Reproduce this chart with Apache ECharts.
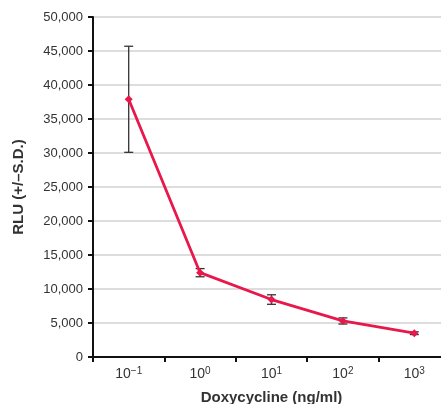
<!DOCTYPE html>
<html><head><meta charset="utf-8">
<script src="https://cdn.jsdelivr.net/npm/echarts@6/dist/echarts.min.js"></script>
<style>html,body{margin:0;padding:0;background:#fff}#c{width:441px;height:404px}</style>
</head><body><div id="c"></div>
<script>
const categories = ['-1', '0', '1', '2', '3'];
const rlu = [37900, 12400, 8450, 5300, 3500];
const sd = [7800, 600, 700, 450, 200];
const yTicks = [0, 5000, 10000, 15000, 20000, 25000, 30000, 35000, 40000, 45000, 50000];

const red = '#e8174c';
const chart = echarts.init(document.getElementById('c'));
const errData = categories.map((c, i) => [i, rlu[i] - sd[i], rlu[i] + sd[i]]);
chart.setOption({
  animation: false,
  grid: { left: 93, right: -9, top: 17, bottom: 47, outerBoundsMode: 'none', containLabel: false },
  xAxis: {
    type: 'category', data: categories, boundaryGap: true,
    axisLine: { lineStyle: { color: '#111', width: 2 } },
    axisTick: { show: true, length: 5, interval: 0, lineStyle: { color: '#111', width: 2 } },
    axisLabel: {
      margin: 9, interval: 0,
      formatter: v => '{b|10}{s|' + v.replace('-', '−') + '}',
      rich: {
        b: { fontFamily: 'Liberation Sans', fontSize: 14, color: '#333', lineHeight: 17 },
        s: { fontFamily: 'Liberation Sans', fontSize: 10, color: '#333', verticalAlign: 'top', lineHeight: 17, padding: [0, 0, 6, 0] }
      }
    },
    name: 'Doxycycline (ng/ml)', nameLocation: 'middle', nameGap: 33,
    nameTextStyle: { fontFamily: 'Liberation Sans', fontWeight: 'bold', fontSize: 15, color: '#333' }
  },
  yAxis: {
    type: 'value', min: yTicks[0], max: yTicks[yTicks.length - 1], interval: 5000,
    axisLine: { show: true, lineStyle: { color: '#111', width: 2 } },
    axisTick: { show: true, length: 5, lineStyle: { color: '#111', width: 2 } },
    splitLine: { show: true, lineStyle: { color: '#d2d2d2', width: 1.5 } },
    axisLabel: {
      margin: 10, fontFamily: 'Liberation Sans', fontSize: 13, color: '#333',
      formatter: v => v.toLocaleString('en-US')
    },
    name: 'RLU (+/–S.D.)', nameLocation: 'middle', nameGap: 67, nameRotate: 90,
    nameTextStyle: { fontFamily: 'Liberation Sans', fontWeight: 'bold', fontSize: 15, color: '#333' }
  },
  series: [
    {
      type: 'custom', data: errData, z: 1,
      renderItem: (params, api) => {
        const x = api.value(0);
        const lo = api.coord([x, api.value(1)]);
        const hi = api.coord([x, api.value(2)]);
        const w = 4.5;
        const st = { stroke: '#333', lineWidth: 1.3 };
        return { type: 'group', children: [
          { type: 'line', shape: { x1: lo[0], y1: lo[1], x2: hi[0], y2: hi[1] }, style: st },
          { type: 'line', shape: { x1: lo[0] - w, y1: lo[1], x2: lo[0] + w, y2: lo[1] }, style: st },
          { type: 'line', shape: { x1: hi[0] - w, y1: hi[1], x2: hi[0] + w, y2: hi[1] }, style: st }
        ]};
      }
    },
    {
      type: 'line', data: rlu, z: 3,
      lineStyle: { color: red, width: 2.8 },
      itemStyle: { color: red },
      symbol: 'diamond', symbolSize: 8, showSymbol: true
    }
  ]
});
</script></body></html>
